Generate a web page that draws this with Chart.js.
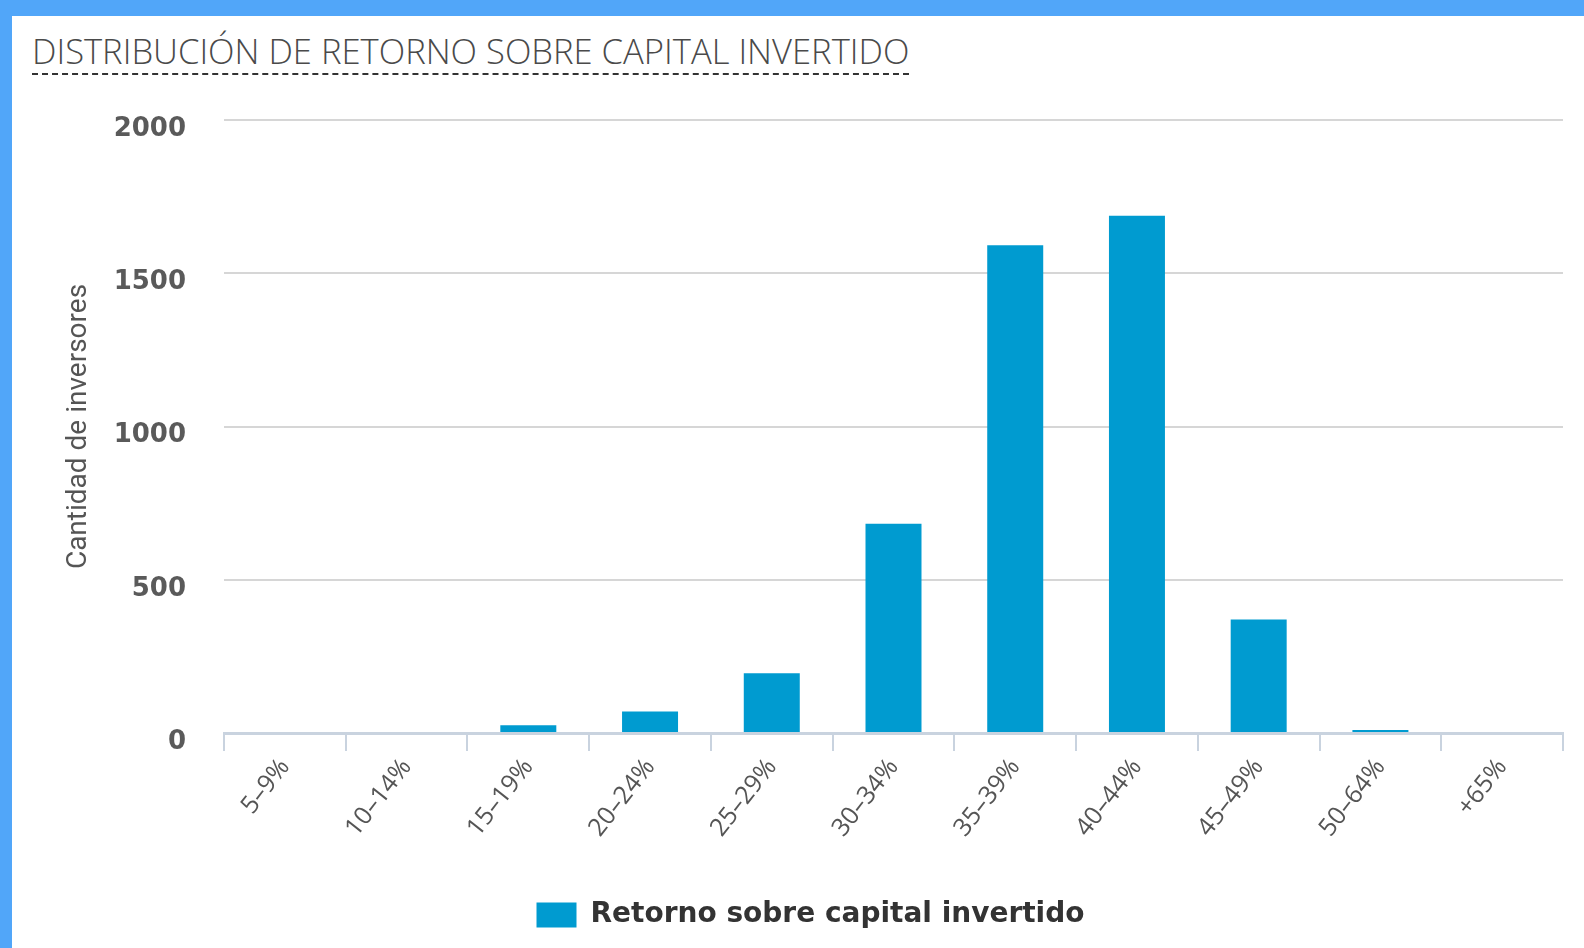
<!DOCTYPE html>
<html>
<head>
<meta charset="utf-8">
<script src="https://cdn.jsdelivr.net/npm/chart.js@4/dist/chart.umd.min.js"></script>
<style>
    html, body { margin: 0; padding: 0; }
    body { width: 1584px; height: 948px; background: #51a6f9; position: relative; overflow: hidden; }
    .panel { position: absolute; left: 12px; top: 16px; right: 0; bottom: 0; background: #ffffff; }
    .titulo {
        position: absolute; left: 32px; top: 31px; margin: 0;
        font-family: "Open Sans", sans-serif; font-weight: 300; font-size: 34.6px;
        color: #4a4a4a; letter-spacing: 0; line-height: 40px;
        border-bottom: 2px dashed #333; padding-bottom: 2px; white-space: nowrap;
    }
    #grafico { position: absolute; left: 0; top: 0; }
</style>
</head>
<body>
<div class="panel"></div>
<h2 class="titulo">DISTRIBUCIÓN DE RETORNO SOBRE CAPITAL INVERTIDO</h2>
<canvas id="grafico" width="1584" height="948"></canvas>
<script>
// Datos del gráfico
const categorias = ['5–9%', '10–14%', '15–19%', '20–24%', '25–29%', '30–34%', '35–39%', '40–44%', '45–49%', '50–64%', '+65%'];
const inversores = [0, 0, 25, 70, 195, 683, 1591, 1688, 370, 10, 0];
const ticksY = [0, 500, 1000, 1500, 2000];

const ctx = document.getElementById('grafico');
new Chart(ctx, {
    type: 'bar',
    data: {
        labels: categorias,
        datasets: [{
            label: 'Retorno sobre capital invertido',
            data: inversores,
            backgroundColor: '#009bd0',
            borderWidth: 0,
            barPercentage: 0.46,
            categoryPercentage: 1
        }]
    },
    options: {
        responsive: false,
        animation: false,
        layout: {
            padding: { left: 58, right: 21, top: 120, bottom: 9 }
        },
        scales: {
            x: {
                grid: {
                    display: true,
                    drawOnChartArea: false,
                    drawTicks: true,
                    tickLength: 18,
                    color: '#c9d3df',
                    lineWidth: 2,
                    offset: true
                },
                border: { display: true, color: '#c9d3df', width: 3 },
                ticks: {
                    minRotation: 52,
                    maxRotation: 52,
                    padding: 2,
                    color: '#555',
                    font: { family: 'Open Sans', size: 25 }
                },
                afterFit: function (scale) { scale.height = 158; }
            },
            y: {
                min: 0,
                max: 2000,
                afterBuildTicks: function (scale) {
                    scale.ticks = ticksY.map(v => ({ value: v }));
                },
                grid: { color: '#d6d6d6', lineWidth: 2, drawTicks: false },
                border: { display: false },
                ticks: {
                    padding: 38,
                    labelOffset: 9,
                    color: '#5a5a5a',
                    font: { family: 'DejaVu Sans', size: 26, weight: 'bold' },
                    callback: function (v) { return String(v); }
                },
                title: {
                    display: true,
                    text: 'Cantidad de inversores',
                    color: '#555',
                    font: { family: 'Roboto', size: 28 }
                },
                afterFit: function (scale) { scale.width = 166; }
            }
        },
        plugins: {
            legend: {
                position: 'bottom',
                labels: {
                    boxWidth: 40,
                    boxHeight: 25,
                    padding: 10,
                    color: '#333',
                    font: { family: 'DejaVu Sans', size: 28, weight: 'bold' }
                }
            },
            tooltip: { enabled: false }
        }
    }
});
</script>
</body>
</html>
